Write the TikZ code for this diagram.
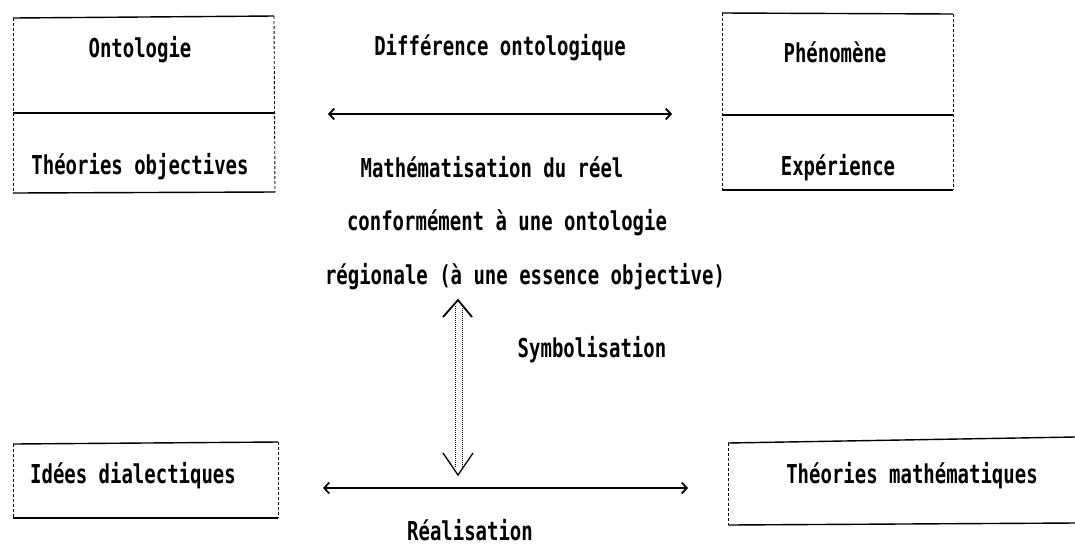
\documentclass[tikz,border=0pt]{standalone}
\usepackage{fontspec}
\setmainfont{DejaVu Sans Mono}[FakeStretch=0.73]
\usetikzlibrary{arrows.meta}
\begin{document}
\begin{tikzpicture}[x=1pt,y=-1pt,
  lbl/.style={font=\bfseries\fontsize{26}{30}\selectfont, inner sep=0pt, anchor=center},
  hline/.style={line width=1.4pt},
  vline/.style={line width=0.9pt, densely dashed},
  conn/.style={line width=1.8pt, {Straight Barb[length=5pt,width=11pt]}-{Straight Barb[length=5pt,width=11pt]}},
  dline/.style={line width=1pt, densely dotted}]
\useasboundingbox (0,0) rectangle (1075,550);
% boxes
\coordinate (tl1) at (13,18); \coordinate (tl2) at (274,16);
\coordinate (tl3) at (275,192); \coordinate (tl4) at (13,193);
\coordinate (tlm1) at (13,113); \coordinate (tlm2) at (274,113);
\draw[hline] (tl1) -- (tl2); \draw[hline] (tl4) -- (tl3); \draw[hline] (tlm1) -- (tlm2);
\draw[vline] (tl1) -- (tl4); \draw[vline] (tl2) -- (tl3);

\coordinate (tr1) at (722,13); \coordinate (tr2) at (953,14);
\coordinate (tr3) at (953,190); \coordinate (tr4) at (722,190);
\coordinate (trm1) at (722,115); \coordinate (trm2) at (953,115);
\draw[hline] (tr1) -- (tr2); \draw[hline] (tr4) -- (tr3); \draw[hline] (trm1) -- (trm2);
\draw[vline] (tr1) -- (tr4); \draw[vline] (tr2) -- (tr3);

\coordinate (bl1) at (13,444); \coordinate (bl2) at (278,442);
\coordinate (bl3) at (278,518); \coordinate (bl4) at (13,518);
\draw[hline] (bl1) -- (bl2); \draw[hline] (bl4) -- (bl3);
\draw[vline] (bl1) -- (bl4); \draw[vline] (bl2) -- (bl3);

\coordinate (br1) at (728,443); \coordinate (br2) at (1075,437);
\coordinate (br3) at (1075,523); \coordinate (br4) at (728,525);
\draw[hline] (br1) -- (br2); \draw[hline] (br4) -- (br3);
\draw[vline] (br1) -- (br4);

% texts
\node[lbl] (onto) at (140,50) {Ontologie};
\node[lbl] (theo) at (140,167) {Théories objectives};
\node[lbl] (phen) at (835,52) {Phénomène};
\node[lbl] (expe) at (838,168) {Expérience};
\node[lbl] (diff) at (500,48) {Différence ontologique};
\node[lbl] (math1) at (492,167) {Mathématisation du réel};
\node[lbl] (math2) at (507,223) {conformément à une ontologie};
\node[lbl] (math3) at (525,277) {régionale (à une essence objective)};
\node[lbl] (symb) at (592,350) {Symbolisation};
\node[lbl] (idee) at (133,476) {Idées dialectiques};
\node[lbl] (thma) at (912,476) {Théories mathématiques};
\node[lbl] (real) at (470,530) {Réalisation};

% horizontal arrows
\coordinate (a1) at (328,114); \coordinate (a2) at (672,114);
\draw[conn] (a1) -- (a2);
\coordinate (b1) at (323,488); \coordinate (b2) at (688,488);
\draw[conn] (b1) -- (b2);

% vertical double arrow
\coordinate (vtop) at (458,300);
\coordinate (vtl) at (443,317); \coordinate (vtr) at (472,317);
\draw[line width=1.8pt] (vtl) -- (vtop) -- (vtr);
\coordinate (vl1) at (455,306); \coordinate (vl2) at (455,468);
\coordinate (vr1) at (462,306); \coordinate (vr2) at (462,468);
\draw[dline] (vl1) -- (vl2); \draw[dline] (vr1) -- (vr2);
\coordinate (vbot) at (458,475);
\coordinate (vbl) at (443,453); \coordinate (vbr) at (473,453);
\draw[line width=1.3pt] (vbl) -- (vbot) -- (vbr);
\end{tikzpicture}
\end{document}
